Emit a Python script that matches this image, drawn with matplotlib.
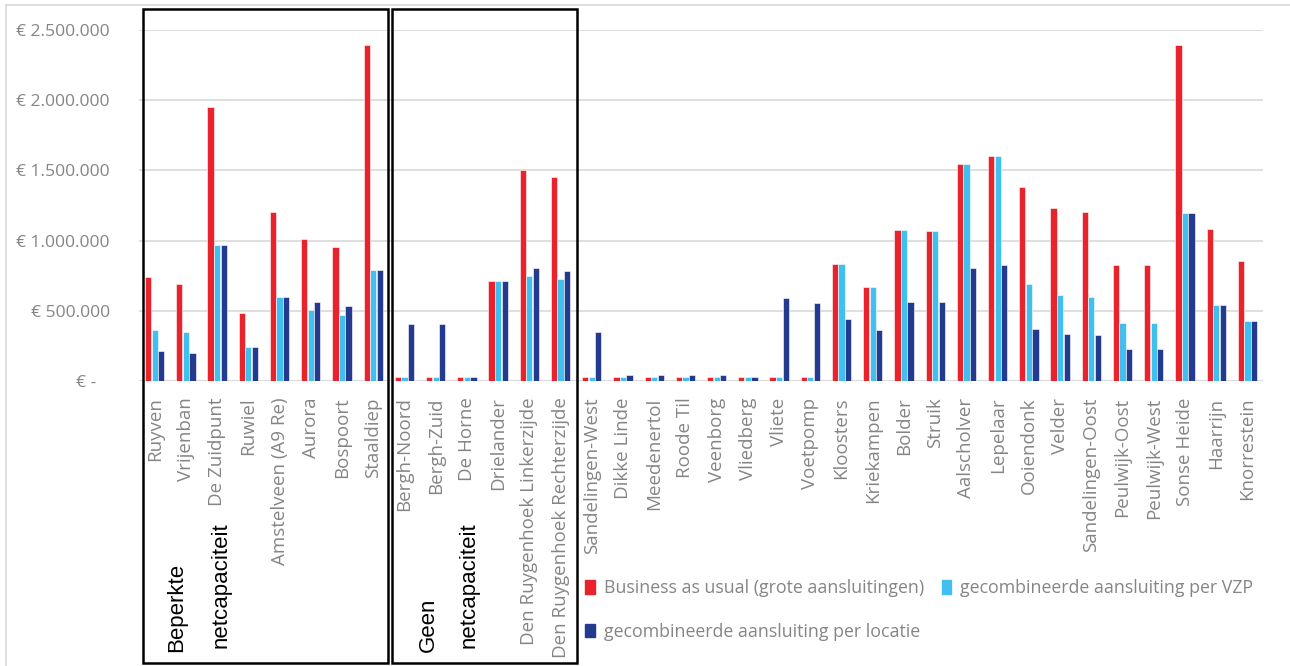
import numpy as np
import matplotlib.pyplot as plt
from matplotlib.patches import Rectangle
from matplotlib.lines import Line2D

plt.rcParams['font.family'] = ['Open Sans', 'DejaVu Sans']

locaties = ['Ruyven', 'Vrijenban', 'De Zuidpunt', 'Ruwiel', 'Amstelveen (A9 Re)',
            'Aurora', 'Bospoort', 'Staaldiep',
            'Bergh-Noord', 'Bergh-Zuid', 'De Horne', 'Drielander',
            'Den Ruygenhoek Linkerzijde', 'Den Ruygenhoek Rechterzijde',
            'Sandelingen-West', 'Dikke Linde', 'Meedenertol', 'Roode Til', 'Veenborg',
            'Vliedberg', 'Vliete', 'Voetpomp', 'Kloosters', 'Kriekampen', 'Bolder',
            'Struik', 'Aalscholver', 'Lepelaar', 'Ooiendonk', 'Velder',
            'Sandelingen-Oost', 'Peulwijk-Oost', 'Peulwijk-West', 'Sonse Heide',
            'Haarrijn', 'Knorrestein']

# Business as usual (grote aansluitingen)
bau = [738000, 693000, 1952000, 482000, 1201000, 1014000, 957000, 2396000,
       28000, 28000, 28000, 712000, 1503000, 1453000,
       28000, 28000, 28000, 28000, 28000, 28000, 28000, 28000,
       833000, 670000, 1076000, 1066000, 1548000, 1605000, 1379000, 1230000,
       1201000, 826000, 826000, 2391000, 1080000, 852000]
# gecombineerde aansluiting per VZP
vzp = [363000, 347000, 971000, 240000, 598000, 503000, 472000, 793000,
       28000, 28000, 28000, 712000, 748000, 724000,
       28000, 28000, 28000, 28000, 28000, 28000, 28000, 28000,
       833000, 670000, 1076000, 1066000, 1548000, 1605000, 689000, 613000,
       598000, 411000, 411000, 1197000, 539000, 425000]
# gecombineerde aansluiting per locatie
locatie = [211000, 202000, 971000, 240000, 598000, 563000, 534000, 793000,
           406000, 406000, 28000, 712000, 807000, 783000,
           349000, 43000, 43000, 43000, 43000, 28000, 594000, 553000,
           444000, 361000, 565000, 560000, 805000, 826000, 370000, 337000,
           325000, 230000, 230000, 1197000, 539000, 425000]

y_ticks = [0, 500000, 1000000, 1500000, 2000000, 2500000]
y_labels = ['€ -   ', '€ 500.000', '€ 1.000.000', '€ 1.500.000', '€ 2.000.000', '€ 2.500.000']

rood = '#e8232b'
lichtblauw = '#41c0ef'
donkerblauw = '#233a8f'
grijs = '#858585'

fig = plt.figure(figsize=(12.9, 6.66), dpi=100)
ax = fig.add_axes([0.1078, 0.428, 0.8713, 0.527])

x = np.arange(len(locaties))
w = 0.2
ax.bar(x - 0.21, bau, w, color=rood, edgecolor='white', linewidth=0.4, zorder=3)
ax.bar(x, vzp, w, color=lichtblauw, edgecolor='white', linewidth=0.4, zorder=3)
ax.bar(x + 0.21, locatie, w, color=donkerblauw, edgecolor='white', linewidth=0.4, zorder=3)

ax.set_xlim(-0.5, len(locaties) - 0.5)
ax.set_ylim(0, 2500000)
ax.set_yticks(y_ticks)
ax.set_yticklabels(y_labels, color=grijs, fontsize=12.6)
ax.set_xticks(x)
ax.set_xticklabels(locaties, rotation=90, color=grijs, fontsize=13.5, va='top')
ax.tick_params(length=0, pad=12, axis='x')
ax.tick_params(length=0, pad=21, axis='y')
ax.grid(axis='y', color='#d9d9d9', linewidth=1.2, zorder=0)
for s in ax.spines.values():
    s.set_visible(False)
ax.axhline(0, color='#d9d9d9', linewidth=1.2, zorder=2)

# lichte rand om de grafiek
fig.add_artist(Line2D([6 / 1290, 6 / 1290], [0, 1 - 5 / 666], color='#d9d9d9', lw=1.2))
fig.add_artist(Line2D([6 / 1290, 1], [1 - 5 / 666, 1 - 5 / 666], color='#d9d9d9', lw=1.2))

# kaders voor de groepen
for x0, x1 in [(143, 388), (392, 577)]:
    fig.add_artist(Rectangle((x0 / 1290, 1 - 663 / 666), (x1 - x0) / 1290, 654 / 666,
                             fill=False, edgecolor='black', lw=1.8))
fig.text(177 / 1290, 1 - 652 / 666, 'Beperkte', rotation=90, ha='center', va='bottom',
         fontsize=16, family='Liberation Sans')
fig.text(221 / 1290, 1 - 648 / 666, 'netcapaciteit', rotation=90, ha='center', va='bottom',
         fontsize=16, family='Liberation Sans')
fig.text(428 / 1290, 1 - 652 / 666, 'Geen', rotation=90, ha='center', va='bottom',
         fontsize=16, family='Liberation Sans')
fig.text(469 / 1290, 1 - 648 / 666, 'netcapaciteit', rotation=90, ha='center', va='bottom',
         fontsize=16, family='Liberation Sans')

handles = [Rectangle((0, 0), 1, 1, color=rood), Rectangle((0, 0), 1, 1, color=donkerblauw),
           Rectangle((0, 0), 1, 1, color=lichtblauw)]
namen = ['Business as usual (grote aansluitingen)', 'gecombineerde aansluiting per locatie',
         'gecombineerde aansluiting per VZP']
fig.legend(handles, namen, ncol=2, frameon=False, loc='upper left',
           bbox_to_anchor=(569 / 1290, 1 - 563 / 666), fontsize=12.8, labelcolor=grijs,
           handlelength=0.55, handleheight=0.8, handletextpad=0.5, columnspacing=1.0,
           labelspacing=1.45)

fig.savefig('out.png', dpi=100)
